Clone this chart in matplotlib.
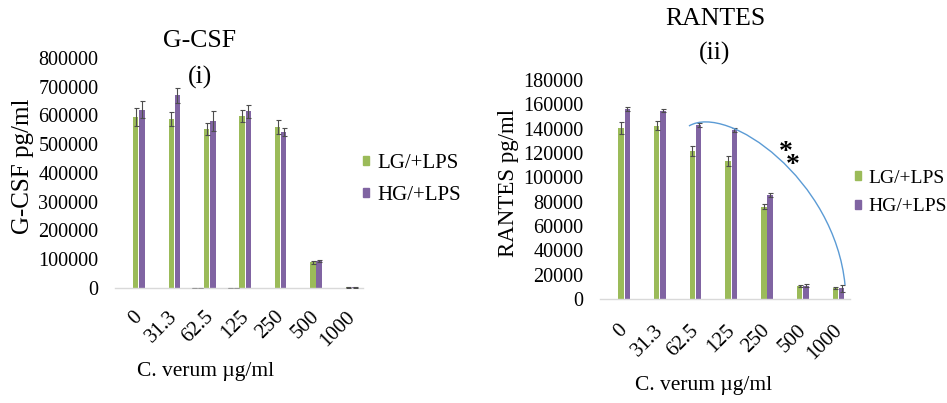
import numpy as np
import matplotlib

matplotlib.use("Agg")
from matplotlib import pyplot as plt
from matplotlib.path import Path
from matplotlib.patches import PathPatch, Patch

plt.rcParams["font.family"] = ["Liberation Serif", "DejaVu Serif"]

# data
doses = ["0", "31.3", "62.5", "125", "250", "500", "1000"]
series_names = ["LG/+LPS", "HG/+LPS"]

gcsf_lg = [595000, 588000, 553000, 597000, 560000, 89000, 2000]
gcsf_lg_err = [30000, 24000, 21000, 21000, 25000, 6000, 500]
gcsf_hg = [620000, 670000, 582000, 614000, 541000, 93000, 2000]
gcsf_hg_err = [29000, 27000, 35000, 24000, 14000, 3000, 500]
# empty control slots that only show error caps at zero
gcsf_ctrl = [np.nan, np.nan, 1200, 1200, np.nan, np.nan, np.nan]

rantes_lg = [140800, 142500, 121600, 113700, 75900, 10700, 8800]
rantes_lg_err = [4900, 3800, 4100, 4100, 2200, 1000, 800]
rantes_hg = [156200, 154800, 143000, 138900, 85500, 11000, 8800]
rantes_hg_err = [2000, 1000, 1500, 1500, 2000, 1000, 2700]

# trend bracket for the RANTES panel (data coords) and significance mark
bracket_pts = [(1.99, 142200), (3.08, 161100), (6.08, 97800), (6.36, 11500)]
star_pos = (4.52, 131000)

GREEN = "#9BBB59"
PURPLE = "#8064A2"
ERR = "#4d4d4d"
SLOT = 0.175
BAR_W = 0.15
offsets = (np.arange(4) - 1.5) * SLOT


def style_axis(ax, ymax, step, tick_pad, label_pad):
    x = np.arange(len(doses))
    ax.set_xlim(-0.5, len(doses) - 0.5)
    ax.set_ylim(0, ymax)
    ax.set_yticks(np.arange(0, ymax + 1, step))
    ax.set_xticks(x)
    ax.set_xticklabels(doses, rotation=45, ha="right", va="top", rotation_mode="anchor")
    ax.tick_params(axis="x", length=0, pad=label_pad, labelsize=15)
    ax.tick_params(axis="y", length=0, pad=tick_pad, labelsize=14.5)
    for side in ["left", "top", "right"]:
        ax.spines[side].set_visible(False)
    ax.spines["bottom"].set_color("#D9D9D9")
    ax.spines["bottom"].set_linewidth(1.0)
    ax.yaxis.get_major_formatter().set_scientific(False)


def draw_pair(ax, lg, lg_err, hg, hg_err):
    x = np.arange(len(doses))
    for off, vals, errs, color in [(offsets[2], lg, lg_err, GREEN), (offsets[3], hg, hg_err, PURPLE)]:
        ax.bar(x + off, vals, BAR_W, color=color, linewidth=0, zorder=2)
        ax.errorbar(x + off, vals, yerr=errs, fmt="none", ecolor=ERR, elinewidth=0.8,
                    capsize=1.8, capthick=0.8, zorder=3)


fig = plt.figure(figsize=(9.47, 4.03), dpi=100)

# (i) G-CSF
ax1 = fig.add_axes([0.1214, 0.2854, 0.2619, 0.5707])
draw_pair(ax1, gcsf_lg, gcsf_lg_err, gcsf_hg, gcsf_hg_err)
x = np.arange(len(doses))
for off in offsets[:2]:
    ax1.errorbar(x + off, gcsf_ctrl, yerr=0, fmt="none", ecolor="#9a9a9a",
                 capsize=1.8, capthick=0.8, zorder=3)
style_axis(ax1, 800000, 100000, 12, 14)
ax1.set_ylabel("G-CSF pg/ml", fontsize=18, va="center")
ax1.yaxis.set_label_coords(-0.37, 0.53)
ax1.set_xlabel("C. verum µg/ml", fontsize=15.5, va="center")
ax1.xaxis.set_label_coords(0.367, -0.365)
fig.text(200 / 947, 1 - 41 / 403, "G-CSF", fontsize=18.5, ha="center", va="center")
fig.text(200 / 947, 1 - 77 / 403, "(i)", fontsize=18.5, ha="center", va="center")

# (ii) RANTES
ax2 = fig.add_axes([0.6336, 0.2581, 0.2640, 0.5434])
draw_pair(ax2, rantes_lg, rantes_lg_err, rantes_hg, rantes_hg_err)
style_axis(ax2, 180000, 20000, 12, 16)
ax2.set_ylabel("RANTES pg/ml", fontsize=16.5, va="center")
ax2.yaxis.set_label_coords(-0.368, 0.532)
ax2.set_xlabel("C. verum µg/ml", fontsize=15.5, va="center")
ax2.xaxis.set_label_coords(0.414, -0.395)
fig.text(715 / 947, 1 - 19 / 403, "RANTES", fontsize=18.5, ha="center", va="center")
fig.text(715 / 947, 1 - 53 / 403, "(ii)", fontsize=18.5, ha="center", va="center")

codes = [Path.MOVETO, Path.CURVE4, Path.CURVE4, Path.CURVE4]
ax2.add_patch(PathPatch(Path(bracket_pts, codes), facecolor="none", edgecolor="#5B9BD5",
                        linewidth=1.0, zorder=4, clip_on=False))
ax2.text(star_pos[0], star_pos[1], "*\n *", fontsize=20, fontweight="bold",
         ha="left", va="top", linespacing=0.38)

handles = [Patch(color=GREEN), Patch(color=PURPLE)]
legend_kw = dict(frameon=False, handlelength=0.3, handleheight=0.3,
                 handletextpad=0.4, labelspacing=0.6, borderpad=0, borderaxespad=0,
                 loc="center left", bbox_transform=fig.transFigure)
ax1.legend(handles, series_names, bbox_to_anchor=(363 / 947, 1 - 179.5 / 403),
           fontsize=15, **legend_kw)
ax2.legend(handles, series_names, bbox_to_anchor=(855 / 947, 1 - 192.5 / 403),
           fontsize=14, **legend_kw)

fig.savefig("out.png", dpi=100)
